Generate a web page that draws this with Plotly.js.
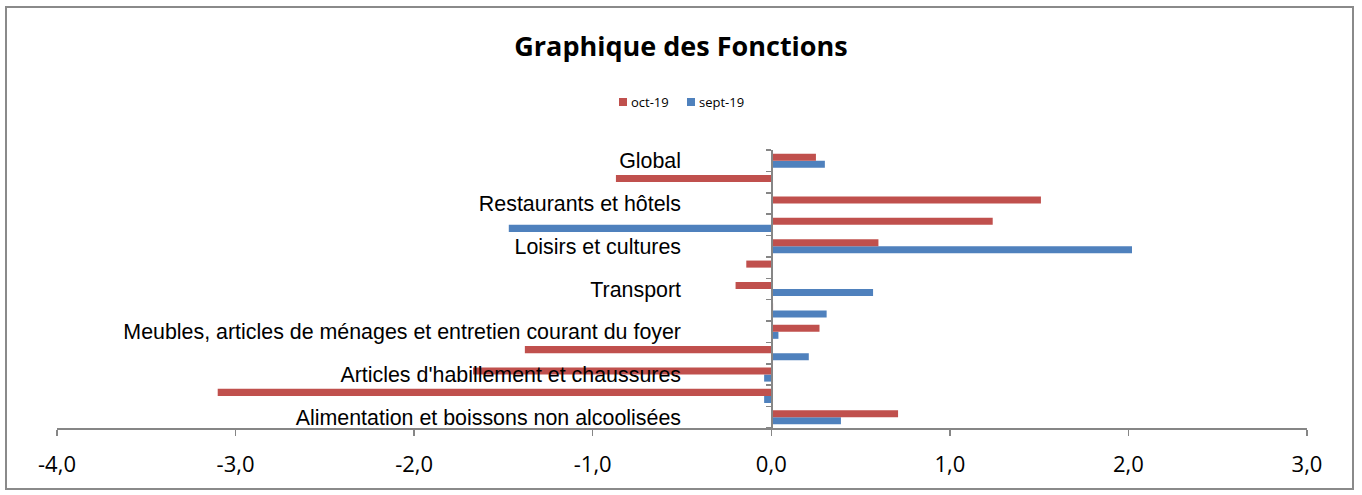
<!DOCTYPE html>
<html>
<head>
<meta charset="utf-8">
<script src="https://cdn.plot.ly/plotly-3.0.1.min.js"></script>
<style>
  html, body { margin: 0; padding: 0; background: #fff; }
  #wrap { position: relative; width: 1362px; height: 495px; }
  #chart { width: 1362px; height: 495px; }
  #frame { position: absolute; left: 5px; top: 6px; width: 1345px; height: 480px;
           border: 2px solid #8a8a8a; pointer-events: none; }
</style>
</head>
<body>
<div id="wrap">
  <div id="chart"></div>
  <div id="frame"></div>
</div>
<script>
const categories = [
  "Alimentation et boissons non alcoolisées",
  "Boissons alcoolisées et tabac",
  "Articles d'habillement et chaussures",
  "Logement, eau, électricité, gaz et autres combustibles",
  "Meubles, articles de ménages et entretien courant du foyer",
  "Santé",
  "Transport",
  "Communication",
  "Loisirs et cultures",
  "Enseignement",
  "Restaurants et hôtels",
  "Biens et services divers",
  "Global"
];
const shownLabels = [true, false, true, false, true, false, true, false, true, false, true, false, true];
const oct19 = [0.71, -3.10, -1.67, -1.38, 0.27, 0.01, -0.20, -0.14, 0.60, 1.24, 1.51, -0.87, 0.25];
const sept19 = [0.39, -0.04, -0.04, 0.21, 0.04, 0.31, 0.57, 0.00, 2.02, -1.47, 0.00, 0.00, 0.30];
const seriesNames = ["oct-19", "sept-19"];
const seriesColors = ["#C0504D", "#4F81BD"];
const xTicks = [-4, -3, -2, -1, 0, 1, 2, 3];

const tickText = categories.map((c, i) => shownLabels[i] ? c : "");
const xTickText = xTicks.map(v => v.toFixed(1).replace(".", ","));

const traces = [
  { type: "bar", orientation: "h", name: seriesNames[1], y: categories, x: sept19,
    marker: { color: seriesColors[1] }, showlegend: false },
  { type: "bar", orientation: "h", name: seriesNames[0], y: categories, x: oct19,
    marker: { color: seriesColors[0] }, showlegend: false }
];

// legend drawn as small squares + labels (Excel style)
const legendItems = [
  { name: seriesNames[0], color: seriesColors[0], px: 619 },
  { name: seriesNames[1], color: seriesColors[1], px: 687 }
];
const toPX = p => (p - 57) / 1250;
const toPY = p => (428 - p) / 278;
const shapes = legendItems.map(it => ({
  type: "rect", xref: "paper", yref: "paper",
  x0: toPX(it.px), x1: toPX(it.px + 8), y0: toPY(106), y1: toPY(98),
  fillcolor: it.color, line: { width: 0 }
}));
const annotations = legendItems.map(it => ({
  xref: "paper", yref: "paper", x: toPX(it.px + 10), y: toPY(102),
  xanchor: "left", yanchor: "middle", showarrow: false, text: it.name,
  font: { family: "Open Sans", size: 13, color: "#000" }
}));

const layout = {
  width: 1362, height: 495,
  margin: { l: 57, r: 55, t: 150, b: 67 },
  paper_bgcolor: "#fff", plot_bgcolor: "rgba(0,0,0,0)",
  barmode: "group",
  bargap: 0.34, bargroupgap: 0,
  showlegend: false,
  shapes: shapes,
  annotations: annotations,
  title: { text: "Graphique des Fonctions", x: 0.5, xanchor: "center", y: 0.905, yanchor: "middle",
           font: { family: "Open Sans", size: 27, color: "#000", weight: 700 } },
  xaxis: {
    range: [-4, 3], tickvals: xTicks, ticktext: xTickText,
    showgrid: false, zeroline: false,
    showline: true, linecolor: "#868686", linewidth: 1.5,
    ticks: "outside", ticklen: 6, tickcolor: "#868686", tickwidth: 1.5,
    ticklabelstandoff: 10,
    tickfont: { family: "Open Sans", size: 22, color: "#000" },
    fixedrange: true
  },
  yaxis: {
    type: "category", categoryorder: "array", categoryarray: categories,
    range: [-0.5, 12.5],
    anchor: "free", position: 4 / 7,
    tickvals: categories, ticktext: tickText,
    tickson: "boundaries",
    showgrid: false, zeroline: false,
    showline: true, linecolor: "#868686", linewidth: 1.5,
    ticks: "outside", ticklen: 5, tickcolor: "#868686", tickwidth: 1.5,
    ticklabelstandoff: 86,
    tickfont: { family: "Liberation Sans", size: 21.4, color: "#000" },
    fixedrange: true
  }
};

Plotly.newPlot("chart", traces, layout, { displayModeBar: false, staticPlot: true });
</script>
</body>
</html>
